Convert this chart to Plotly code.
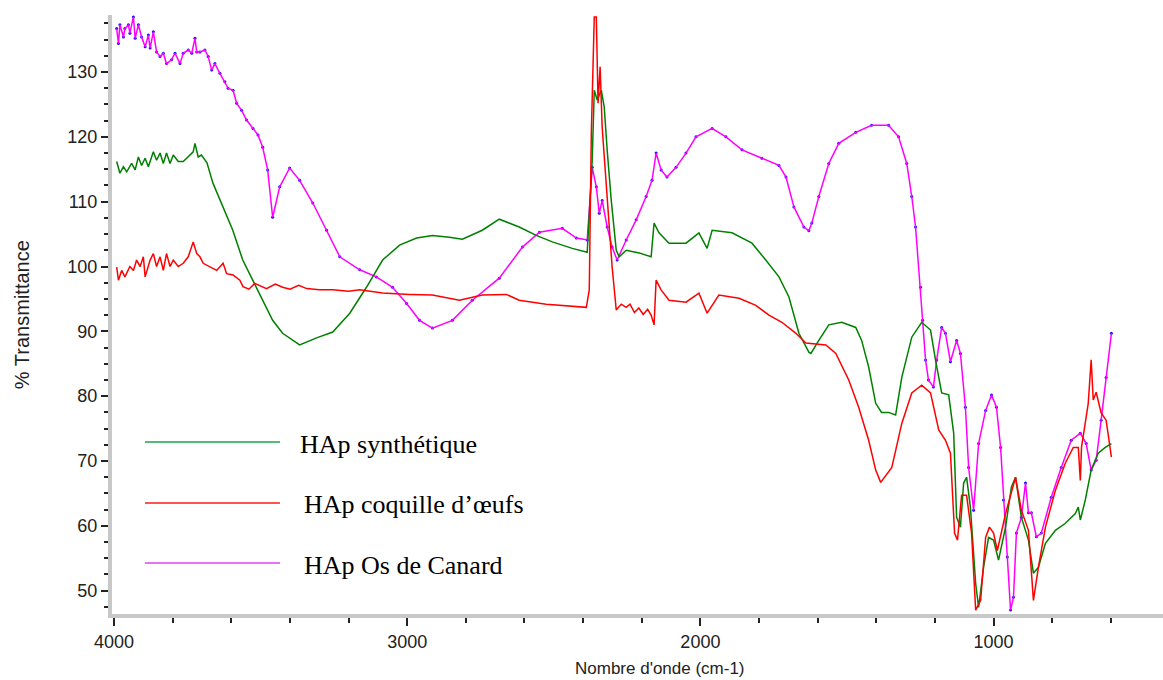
import plotly.graph_objects as go

# ---------------- data (wavenumber cm-1, %T) ----------------
wn_canard = [3991, 3985, 3980, 3968, 3963, 3951, 3946, 3934, 3928, 3917, 3906, 3894, 3883, 3877,
             3866, 3855, 3843, 3832, 3821, 3804, 3792, 3775, 3764, 3747, 3735, 3724, 3718, 3707,
             3690, 3679, 3667, 3656, 3639, 3622, 3611, 3594, 3582, 3565, 3548, 3526, 3509, 3493,
             3476, 3459, 3435, 3401, 3367, 3322, 3275, 3230, 3162, 3105, 3050, 3002, 2958, 2914,
             2846, 2778, 2686, 2607, 2549, 2471, 2423, 2386, 2369, 2355, 2345, 2335, 2318, 2301,
             2284, 2253, 2219, 2185, 2165, 2151, 2134, 2114, 2083, 2049, 2015, 1960, 1913, 1858,
             1790, 1732, 1708, 1681, 1647, 1630, 1620, 1596, 1562, 1528, 1470, 1416, 1358, 1324,
             1296, 1279, 1266, 1249, 1242, 1232, 1222, 1205, 1194, 1177, 1164, 1147, 1126, 1113,
             1096, 1085, 1068, 1051, 1027, 1007, 990, 976, 966, 953, 942, 932, 922, 905, 891, 881,
             871, 854, 837, 803, 769, 735, 704, 684, 667, 650, 633, 616, 598]
t_canard = [136.7, 134.4, 137.3, 135.4, 136.7, 137.3, 136.0, 138.5, 135.2, 137.3, 135.4, 133.9, 135.7, 133.7,
            136.2, 133.1, 132.4, 132.9, 131.3, 131.9, 132.9, 131.3, 132.9, 133.4, 132.9, 135.2, 133.1, 133.1,
            133.4, 132.4, 130.3, 131.3, 129.8, 128.5, 127.5, 127.2, 125.2, 124.1, 122.6, 121.3, 120.3, 118.4,
            114.9, 107.6, 112.3, 115.2, 113.3, 109.8, 105.6, 101.5, 99.5, 98.4, 96.8, 94.3, 91.7, 90.5,
            91.7, 94.8, 98.2, 103.0, 105.3, 105.9, 104.4, 104.1, 115.3, 112.3, 108.2, 110.2, 106.1, 103.0,
            101.0, 104.1, 107.2, 110.8, 113.3, 117.5, 114.9, 113.8, 115.3, 117.5, 120.0, 121.3, 120.0, 118.0,
            116.7, 115.6, 113.8, 109.2, 106.1, 105.5, 106.7, 110.8, 115.9, 119.0, 120.7, 121.8, 121.8, 120.0,
            115.9, 110.8, 106.1, 96.8, 91.7, 85.6, 82.5, 81.4, 85.6, 90.6, 89.7, 85.3, 88.6, 86.6,
            78.3, 69.0, 62.4, 72.7, 77.8, 80.2, 78.3, 72.1, 64.0, 55.2, 47.0, 49.0, 58.9, 61.3, 66.6, 62.0,
            62.0, 58.3, 58.9, 64.4, 69.0, 73.2, 74.3, 72.7, 68.6, 70.1, 76.3, 82.9, 89.7]

wn_synth = [3991, 3980, 3968, 3957, 3940, 3928, 3917, 3906, 3894, 3883, 3866, 3855, 3843, 3832,
            3821, 3809, 3798, 3781, 3764, 3747, 3730, 3724, 3713, 3702, 3683, 3663, 3629, 3595,
            3561, 3527, 3493, 3459, 3425, 3367, 3309, 3254, 3196, 3139, 3084, 3026, 2968, 2914,
            2856, 2812, 2744, 2686, 2618, 2560, 2505, 2437, 2386, 2376, 2369, 2362, 2352, 2338,
            2328, 2318, 2304, 2287, 2277, 2253, 2209, 2168, 2158, 2141, 2107, 2049, 2005, 1977,
            1960, 1892, 1824, 1777, 1732, 1698, 1664, 1630, 1623, 1596, 1562, 1518, 1470, 1450,
            1426, 1402, 1382, 1358, 1334, 1313, 1279, 1245, 1215, 1198, 1177, 1153, 1136, 1126,
            1113, 1102, 1092, 1079, 1061, 1051, 1034, 1017, 1000, 983, 959, 939, 925, 905, 881,
            864, 847, 823, 789, 755, 721, 711, 704, 687, 667, 643, 619, 598]
t_synth = [116.2, 114.4, 115.4, 114.6, 115.9, 114.9, 116.9, 115.6, 116.7, 115.4, 117.7, 116.4, 117.5, 115.9,
           117.5, 115.9, 117.2, 116.2, 116.2, 116.9, 117.7, 119.0, 116.9, 117.2, 116.0, 112.9, 109.2, 105.6,
           101.0, 97.9, 94.8, 91.7, 89.7, 87.9, 89.0, 89.9, 92.8, 96.8, 101.0, 103.3, 104.4, 104.8,
           104.5, 104.2, 105.6, 107.3, 106.1, 104.8, 103.8, 102.8, 102.2, 110.2, 116.4, 127.2, 125.7, 127.2,
           124.6, 118.0, 110.2, 102.5, 101.5, 102.5, 102.1, 101.5, 106.7, 105.2, 103.6, 103.6, 105.2, 102.8,
           105.6, 105.2, 103.6, 101.0, 98.4, 95.3, 89.7, 86.8, 86.6, 88.6, 91.0, 91.4, 90.6, 88.6,
           84.5, 78.9, 77.5, 77.5, 77.1, 82.9, 89.1, 91.4, 90.2, 85.6, 80.5, 80.2, 74.3, 61.3,
           59.8, 66.6, 67.5, 62.9, 51.1, 47.4, 53.6, 58.2, 57.8, 54.7, 59.8, 66.0, 67.5, 61.3, 57.8,
           52.7, 53.6, 57.3, 59.3, 60.4, 61.9, 62.9, 60.9, 64.0, 68.6, 71.2, 72.1, 72.7]

wn_oeuf = [3991, 3985, 3974, 3963, 3946, 3934, 3923, 3911, 3900, 3894, 3877, 3866, 3855, 3843,
           3832, 3821, 3809, 3798, 3781, 3764, 3747, 3730, 3718, 3707, 3696, 3673, 3650, 3628,
           3616, 3594, 3571, 3560, 3540, 3520, 3503, 3480, 3450, 3425, 3400, 3370, 3343, 3300,
           3254, 3200, 3162, 3084, 2992, 2914, 2822, 2744, 2662, 2618, 2526, 2458, 2389, 2379,
           2372, 2362, 2355, 2349, 2342, 2335, 2318, 2301, 2287, 2270, 2253, 2240, 2225, 2210,
           2195, 2180, 2168, 2158, 2151, 2134, 2107, 2049, 2005, 1977, 1937, 1868, 1811, 1766,
           1722, 1674, 1640, 1572, 1538, 1494, 1460, 1426, 1402, 1385, 1347, 1313, 1279, 1245,
           1215, 1187, 1164, 1147, 1133, 1123, 1109, 1092, 1075, 1061, 1044, 1027, 1014, 1000,
           987, 959, 925, 905, 881, 864, 847, 823, 789, 755, 728, 711, 704, 700, 677, 667, 660,
           650, 633, 616, 598]
t_oeuf = [99.9, 97.9, 99.4, 98.4, 100.0, 99.4, 101.0, 100.0, 101.5, 98.4, 101.0, 102.0, 100.0, 101.5,
          99.4, 102.0, 100.0, 101.0, 100.0, 100.5, 101.5, 103.8, 102.0, 101.5, 100.5, 100.0, 99.4, 100.5,
          98.9, 98.7, 97.9, 96.9, 96.5, 97.4, 97.1, 96.6, 97.3, 96.8, 96.5, 97.1, 96.6, 96.4,
          96.4, 96.2, 96.4, 95.9, 95.7, 95.6, 94.8, 95.6, 95.7, 94.8, 94.2, 93.9, 93.7, 96.4,
          120.6, 138.5, 138.5, 125.2, 130.8, 121.5, 111.3, 99.9, 93.3, 94.2, 93.7, 94.2, 92.9, 93.6,
          92.6, 93.4, 92.5, 91.0, 97.9, 96.4, 94.8, 94.5, 95.9, 92.8, 95.6, 95.1, 94.0, 92.5,
          91.4, 89.7, 88.2, 87.9, 86.6, 82.5, 78.3, 73.2, 68.6, 66.7, 69.0, 75.8, 80.5, 81.7,
          80.5, 74.8, 73.2, 71.2, 58.9, 57.8, 64.7, 64.7, 58.9, 47.0, 48.5, 58.2, 59.8, 58.9,
          56.2, 61.9, 67.5, 62.4, 59.3, 48.5, 53.6, 59.8, 65.5, 69.7, 72.1, 72.1, 67.0, 72.1, 78.9, 85.6,
          79.4, 80.6, 77.4, 76.3, 70.6]

legend_labels = ["HAp synthétique", "HAp coquille d\u2019\u0153ufs", "HAp Os de Canard"]
x_ticks = [4000, 3000, 2000, 1000]
y_ticks = [50, 60, 70, 80, 90, 100, 110, 120, 130]

# ---------------- figure ----------------
fig = go.Figure()
fig.add_trace(go.Scatter(x=wn_canard, y=t_canard, mode="markers",
                         marker=dict(color="#1010ff", size=3), hoverinfo="skip"))
fig.add_trace(go.Scatter(x=wn_canard, y=t_canard, mode="lines",
                         line=dict(color="#ff00ff", width=1.5), name=legend_labels[2]))
fig.add_trace(go.Scatter(x=wn_synth, y=t_synth, mode="lines",
                         line=dict(color="#008000", width=1.5), name=legend_labels[0]))
fig.add_trace(go.Scatter(x=wn_oeuf, y=t_oeuf, mode="lines",
                         line=dict(color="#ff0000", width=1.5), name=legend_labels[1]))

tick_font = dict(family="Liberation Sans, Arial, sans-serif", size=18, color="#222")
title_narrow = dict(family="Liberation Sans Narrow, Liberation Sans, Arial, sans-serif", size=17, color="#222")

fig.update_layout(
    width=1163, height=680,
    margin=dict(l=112, r=0, t=15, b=66),
    paper_bgcolor="white", plot_bgcolor="white",
    showlegend=False,
    xaxis=dict(range=[4007, 422], tickvals=x_ticks, ticktext=[str(v) for v in x_ticks],
               showgrid=False, zeroline=False,
               showline=True, linecolor="#c8c8c8", linewidth=4,
               ticks="outside", ticklen=8, tickwidth=2, tickcolor="#222",
               tickfont=tick_font,
               minor=dict(dtick=200, tick0=0, ticks="outside", ticklen=5, tickwidth=2, tickcolor="#222")),
    yaxis=dict(range=[46.4, 138.8], tickvals=y_ticks, ticktext=[str(v) for v in y_ticks],
               showgrid=False, zeroline=False,
               showline=True, linecolor="#c8c8c8", linewidth=4,
               ticks="outside", ticklen=7, tickwidth=2, tickcolor="#222",
               tickfont=tick_font,
               minor=dict(dtick=2.5, tick0=0, ticks="outside", ticklen=4, tickwidth=2, tickcolor="#222")),
)

# axis titles
fig.add_annotation(text="% Transmittance", xref="paper", yref="paper", x=-0.0856, y=0.499,
                   xanchor="center", yanchor="middle", textangle=-90, showarrow=False,
                   font=dict(family="Liberation Sans, Arial", size=20, color="#222"))
fig.add_annotation(text="Nombre d'onde (cm-1)", xref="paper", yref="paper", x=0.521, y=-0.0902,
                   xanchor="center", yanchor="middle", showarrow=False, font=title_narrow)

# manual legend
leg_colors = ["#1aa34a", "#ff1a1a", "#e040fb"]
leg_y = [0.2871, 0.1853, 0.0851]
leg_tx = [0.177, 0.1808, 0.1808]
leg_ty = [0.2838, 0.182, 0.0818]
for lab, col, ly, tx, ty in zip(legend_labels, leg_colors, leg_y, leg_tx, leg_ty):
    fig.add_shape(type="line", xref="paper", yref="paper", x0=0.0314, x1=0.1598, y0=ly, y1=ly,
                  line=dict(color=col, width=1.5))
    fig.add_annotation(text=lab, xref="paper", yref="paper", x=tx, y=ty, xanchor="left", yanchor="middle",
                       showarrow=False, font=dict(family="Liberation Serif, Times New Roman, serif", size=26, color="black"))

fig.write_html("out.html")
